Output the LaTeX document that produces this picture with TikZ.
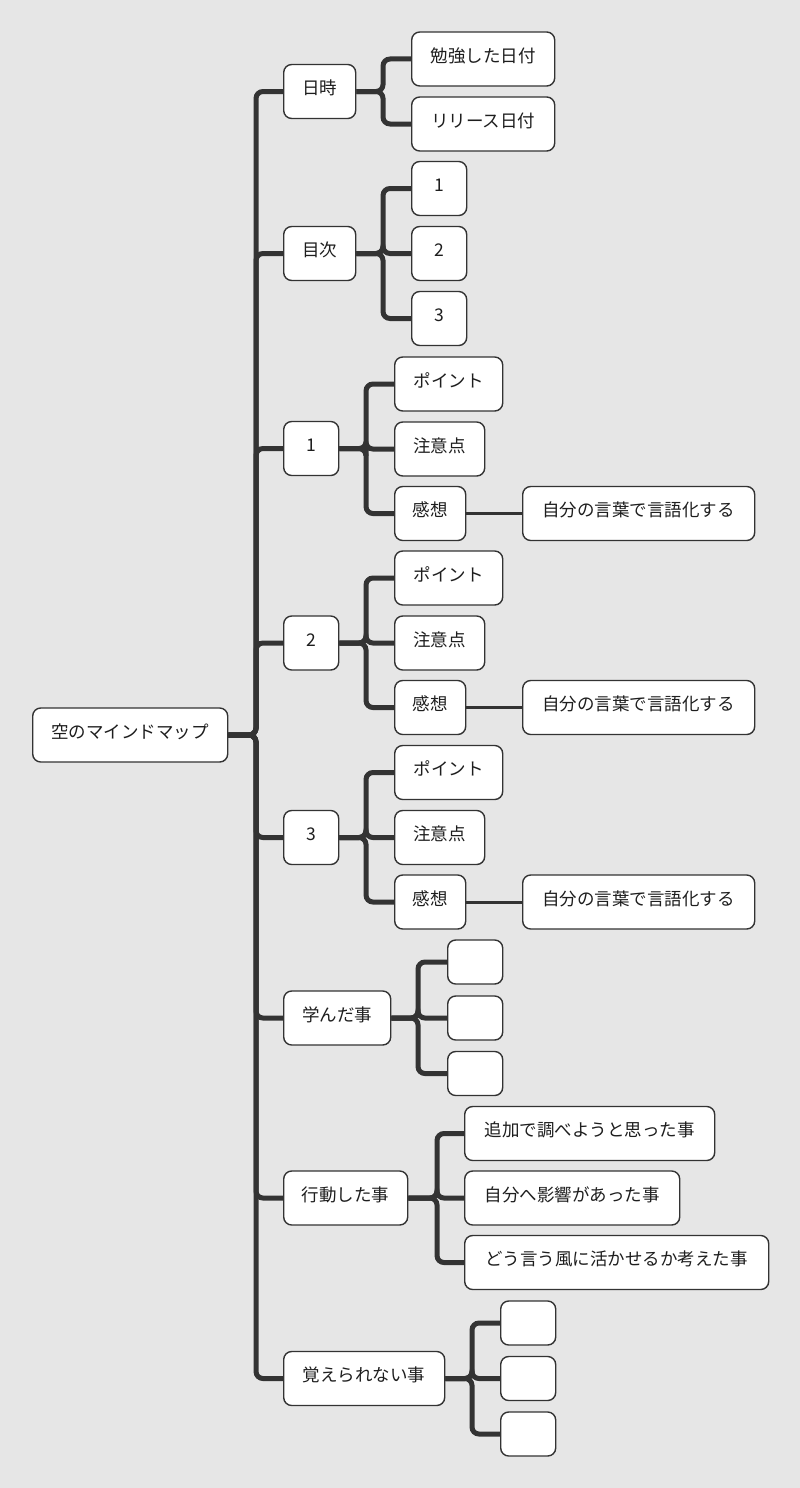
\documentclass[tikz,border=0pt]{standalone}
\usepackage{fontspec}
\setmainfont{Noto Sans CJK JP}
\definecolor{bg}{HTML}{E6E6E6}
\definecolor{ink}{HTML}{333333}
\definecolor{txt}{HTML}{1E1E1E}
\begin{document}
\begin{tikzpicture}[x=1pt,y=-1pt,
  box/.style={draw=ink, fill=white, line width=1.4pt, rounded corners=8pt,
    minimum height=54pt, inner sep=0pt, anchor=west,
    text height=12pt, text depth=5.7pt, text=txt,
    font=\fontsize{17.5}{20}\selectfont},
  ebox/.style={box, minimum height=44pt, minimum width=55pt},
  conn/.style={draw=ink, line width=5pt, rounded corners=7pt},
  thinconn/.style={draw=ink, line width=3pt}]
\path[fill=bg] (0,0) rectangle (800,1488);
% junction x positions
\coordinate (j0) at (256,0);
\coordinate (j1) at (383,0);
\coordinate (j2) at (383,0);
\coordinate (j3) at (366,0);
\coordinate (j4) at (366,0);
\coordinate (j5) at (366,0);
\coordinate (j6) at (418,0);
\coordinate (j7) at (437,0);
\coordinate (j8) at (472,0);
% root
\node[box, minimum width=195pt] (root) at (32,735) {空のマインドマップ};
% level 1
\node[box, minimum width=72pt] (n1) at (283,91.5) {日時};
\node[box, minimum width=72pt] (n2) at (283,253.5) {目次};
\node[box, minimum width=55pt] (n3) at (283,448.5) {1};
\node[box, minimum width=55pt] (n4) at (283,643) {2};
\node[box, minimum width=55pt] (n5) at (283,837.5) {3};
\node[box, minimum width=107pt] (n6) at (283,1018) {学んだ事};
\node[box, minimum width=124pt] (n7) at (283,1198) {行動した事};
\node[box, minimum width=161pt] (n8) at (283,1378.5) {覚えられない事};
% level 2
\node[box, minimum width=143pt] (n1a) at (411,59) {勉強した日付};
\node[box, minimum width=143pt] (n1b) at (411,124) {リリース日付};
\node[box, minimum width=55pt] (n2a) at (411,188.5) {1};
\node[box, minimum width=55pt] (n2b) at (411,253.5) {2};
\node[box, minimum width=55pt] (n2c) at (411,318.5) {3};
\node[box, minimum width=108pt] (n3a) at (394,384) {ポイント};
\node[box, minimum width=90pt] (n3b) at (394,449) {注意点};
\node[box, minimum width=71pt] (n3c) at (394,513.5) {感想};
\node[box, minimum width=232pt] (n3d) at (522,513.5) {自分の言葉で言語化する};
\node[box, minimum width=108pt] (n4a) at (394,578) {ポイント};
\node[box, minimum width=90pt] (n4b) at (394,643) {注意点};
\node[box, minimum width=71pt] (n4c) at (394,707.5) {感想};
\node[box, minimum width=232pt] (n4d) at (522,707.5) {自分の言葉で言語化する};
\node[box, minimum width=108pt] (n5a) at (394,772.5) {ポイント};
\node[box, minimum width=90pt] (n5b) at (394,837.5) {注意点};
\node[box, minimum width=71pt] (n5c) at (394,902) {感想};
\node[box, minimum width=232pt] (n5d) at (522,902) {自分の言葉で言語化する};
\node[ebox] (n6a) at (447,962) {};
\node[ebox] (n6b) at (447,1018) {};
\node[ebox] (n6c) at (447,1073.5) {};
\node[box, minimum width=250pt] (n7a) at (464,1133.5) {追加で調べようと思った事};
\node[box, minimum width=215pt] (n7b) at (464,1198) {自分へ影響があった事};
\node[box, minimum width=304pt] (n7c) at (464,1262.5) {どう言う風に活かせるか考えた事};
\node[ebox] (n8a) at (500,1323) {};
\node[ebox] (n8b) at (500,1378.5) {};
\node[ebox] (n8c) at (500,1434) {};
% connectors
\foreach \c in {n1,n2,n3,n4,n5,n6,n7,n8}
  \draw[conn] (root.east) -- (root.east -| j0) |- (\c.west);
\foreach \c in {n1a,n1b}
  \draw[conn] (n1.east) -- (n1.east -| j1) |- (\c.west);
\foreach \c in {n2a,n2b,n2c}
  \draw[conn] (n2.east) -- (n2.east -| j2) |- (\c.west);
\foreach \c in {n3a,n3b,n3c}
  \draw[conn] (n3.east) -- (n3.east -| j3) |- (\c.west);
\foreach \c in {n4a,n4b,n4c}
  \draw[conn] (n4.east) -- (n4.east -| j4) |- (\c.west);
\foreach \c in {n5a,n5b,n5c}
  \draw[conn] (n5.east) -- (n5.east -| j5) |- (\c.west);
\foreach \c in {n6a,n6b,n6c}
  \draw[conn] (n6.east) -- (n6.east -| j6) |- (\c.west);
\foreach \c in {n7a,n7b,n7c}
  \draw[conn] (n7.east) -- (n7.east -| j7) |- (\c.west);
\foreach \c in {n8a,n8b,n8c}
  \draw[conn] (n8.east) -- (n8.east -| j8) |- (\c.west);
\draw[thinconn] (n3c.east) -- (n3d.west);
\draw[thinconn] (n4c.east) -- (n4d.west);
\draw[thinconn] (n5c.east) -- (n5d.west);
\end{tikzpicture}
\end{document}
